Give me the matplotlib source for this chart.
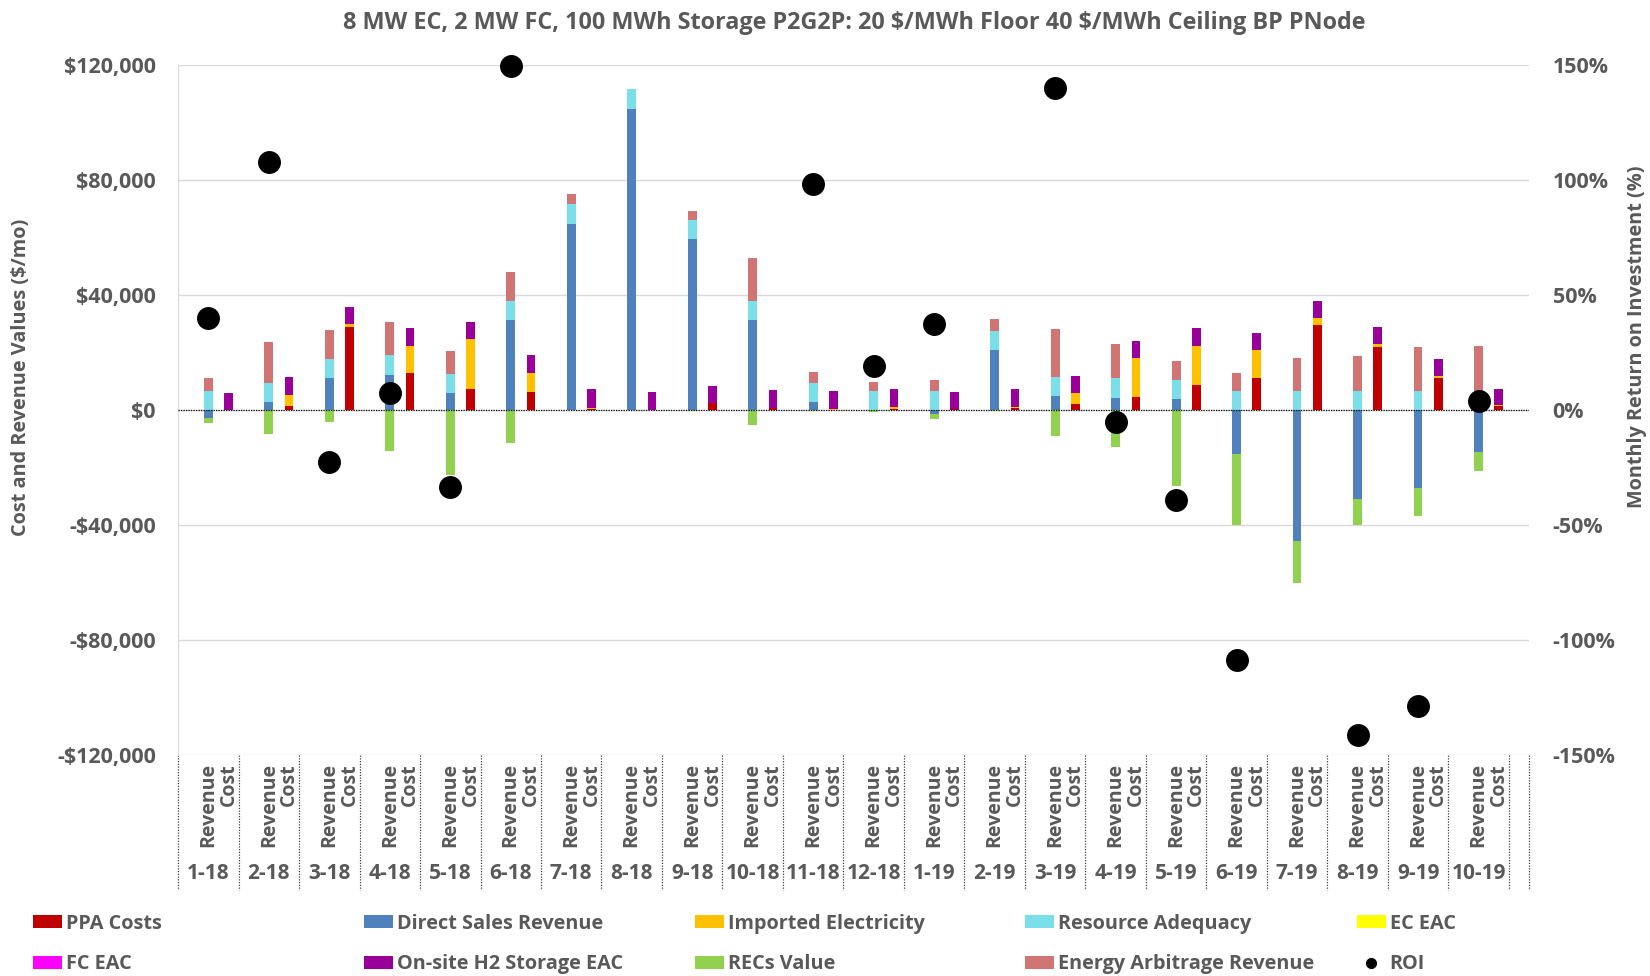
import numpy as np
import matplotlib
matplotlib.use('Agg')
import matplotlib.pyplot as plt
import matplotlib.transforms as mtransforms
from matplotlib.patches import Patch
from matplotlib.lines import Line2D
from matplotlib.ticker import FuncFormatter

plt.rcParams['font.family'] = ['Open Sans', 'DejaVu Sans']

# Monthly values ($/mo); revenue-side and cost-side series
months = ['1-18', '2-18', '3-18', '4-18', '5-18', '6-18', '7-18', '8-18', '9-18', '10-18', '11-18',
          '12-18', '1-19', '2-19', '3-19', '4-19', '5-19', '6-19', '7-19', '8-19', '9-19', '10-19']

ppa_costs = [0, 1350, 28800, 12800, 7240, 6400, 200, 0, 2360, 670, 0,
             300, 300, 840, 2190, 4550, 8760, 11110, 29470, 22060, 11280, 1350]
direct_sales = [-2700, 2700, 11110, 12290, 5890, 31150, 64830, 104740, 59450, 31320, 2700,
                0, -1350, 20880, 4880, 4210, 3870, -15160, -45640, -30990, -27280, -14480]
imported_elec = [0, 4040, 1010, 9600, 17350, 6570, 400, 0, 0, 0, 500,
                 900, 0, 340, 3700, 13640, 13640, 9600, 2530, 1010, 670, 340]
resource_adequacy = [6570, 6570, 6570, 6740, 6570, 6740, 6740, 6740, 6740, 6740, 6570,
                     6570, 6570, 6740, 6740, 6900, 6740, 6740, 6740, 6740, 6740, 6740]
ec_eac = [0] * 22
fc_eac = [0] * 22
h2_storage_eac = [5900, 6060, 5900, 6060, 6060, 6230, 6570, 6230, 5900, 6230, 6060,
                  6230, 6060, 6060, 5900, 5900, 6060, 6060, 6060, 5900, 5900, 5730]
recs_value = [-1850, -8420, -4210, -14310, -22730, -11450, 0, 0, -300, -5220, -500,
              -840, -1680, -500, -9090, -12970, -26440, -24750, -14480, -8930, -9600, -6570]
arbitrage = [4550, 14480, 10100, 11620, 7910, 9940, 3700, 300, 3030, 14650, 4040,
             3030, 3700, 4210, 16500, 11960, 6570, 6060, 11450, 11960, 15320, 15490]

# monthly ROI (%); NaN where the value lies beyond the +/-150% axis range
roi = [40.0, 107.8, -22.7, 7.6, -33.3, 149.7, np.nan, np.nan, np.nan, np.nan, 98.3,
       19.2, 37.5, np.nan, 139.8, -5.1, -39.2, -108.8, np.nan, -141.5, -128.8, 3.8]

series = [
    ('PPA Costs', ppa_costs, '#C00000', 'cost'),
    ('Direct Sales Revenue', direct_sales, '#4F81BD', 'rev'),
    ('Imported Electricity', imported_elec, '#FFC000', 'cost'),
    ('Resource Adequacy', resource_adequacy, '#7ADFE8', 'rev'),
    ('EC EAC', ec_eac, '#FFFF00', 'cost'),
    ('FC EAC', fc_eac, '#FF00FF', 'cost'),
    ('On-site H2 Storage EAC', h2_storage_eac, '#990099', 'cost'),
    ('RECs Value', recs_value, '#92D050', 'rev'),
    ('Energy Arbitrage Revenue', arbitrage, '#D07573', 'rev'),
]

gray = '#595959'
n = len(months)
rev_x = np.arange(n) * 3 + 1
cost_x = np.arange(n) * 3 + 2
width = 0.43

fig = plt.figure(figsize=(16.5, 9.76), dpi=100)
ax = fig.add_axes([0.1079, 0.2264, 0.8188, 0.707])
ax2 = ax.twinx()

# stacked columns: positives pile up from zero, negatives pile down
stacks = {'rev': [np.zeros(n), np.zeros(n)], 'cost': [np.zeros(n), np.zeros(n)]}
for label, vals, color, side in series:
    v = np.asarray(vals, dtype=float)
    pos, neg = stacks[side]
    bottom = np.where(v >= 0, pos, neg)
    x = rev_x if side == 'rev' else cost_x
    ax.bar(x, v, width, bottom=bottom, color=color, linewidth=0, zorder=2)
    pos += np.clip(v, 0, None)
    neg += np.clip(v, None, 0)

ax.axhline(0, color='black', linestyle=(0, (1, 1)), linewidth=0.9, zorder=3)

ax.set_xlim(-0.5, 3 * n + 0.5)
ax.set_ylim(-120000, 120000)
ax.set_yticks(np.arange(-120000, 120001, 40000))
ax.yaxis.set_major_formatter(FuncFormatter(
    lambda v, p: ('-\\$' if v < 0 else '\\$') + f'{abs(v):,.0f}'))
ax.yaxis.grid(True, color='#D9D9D9', linewidth=1)
ax.set_axisbelow(True)
for s in ['top', 'right', 'bottom']:
    ax.spines[s].set_visible(False)
ax.spines['left'].set_color('#D9D9D9')
ax.tick_params(axis='y', length=0, pad=16, labelsize=15.5, labelcolor=gray)
for t in ax.get_yticklabels():
    t.set_fontweight('bold')

# Revenue / Cost category labels
ax.set_xticks(np.concatenate([rev_x, cost_x]))
ax.set_xticklabels(['Revenue'] * n + ['Cost'] * n, rotation=90, va='top',
                   fontsize=14, fontweight='bold', color=gray)
ax.tick_params(axis='x', length=0, pad=6)

trans = mtransforms.blended_transform_factory(ax.transData, ax.transAxes)
for i, m in enumerate(months):
    ax.text(3 * i + 1, -0.171, m, transform=trans, ha='center', va='center',
            fontsize=15, fontweight='bold', color=gray)
for b in list(np.arange(n + 1) * 3 - 0.5) + [3 * n + 0.5]:
    ax.plot([b, b], [0, -0.196], transform=trans, color='#404040',
            linestyle=(0, (1, 1.2)), linewidth=0.9, clip_on=False)

# ROI on the secondary axis
ax2.scatter(rev_x, roi, s=240, color='black', zorder=5, clip_on=False)
ax2.set_ylim(-150, 150)
ax2.set_yticks(np.arange(-150, 151, 50))
ax2.yaxis.set_major_formatter(FuncFormatter(lambda v, p: f'{v:.0f}%'))
ax2.tick_params(axis='y', length=0, pad=17, labelsize=15.5, labelcolor=gray)
for t in ax2.get_yticklabels():
    t.set_fontweight('bold')
for s in ax2.spines.values():
    s.set_visible(False)

fig.text(0.5175, 0.976, '8 MW EC, 2 MW FC, 100 MWh Storage P2G2P: 20 \\$/MWh Floor 40 \\$/MWh Ceiling BP PNode',
         ha='center', va='center', fontsize=16.8, fontweight='bold', color=gray)
fig.text(0.0127, 0.613, 'Cost and Revenue Values (\\$/mo)', rotation=90, ha='center', va='center',
         fontsize=14.3, fontweight='bold', color=gray)
fig.text(0.992, 0.655, 'Monthly Return on Investment (%)', rotation=90, ha='center', va='center',
         fontsize=14.3, fontweight='bold', color=gray)

# legend: five columns, two rows
handles = [Patch(facecolor=c, edgecolor='none') for _, _, c, _ in series]
labels = [lab for lab, _, _, _ in series]
handles.append(Line2D([], [], marker='o', color='black', linestyle='none', markersize=7))
labels.append('ROI')
col_x = [0.0200, 0.2206, 0.4212, 0.6212, 0.8224]
for j, x0 in enumerate(col_x):
    fig.legend([handles[j], handles[j + 5]], [labels[j], labels[j + 5]],
               loc='upper left', bbox_to_anchor=(x0, 0.0640), frameon=False,
               borderpad=0, borderaxespad=0, handlelength=1.45, handleheight=0.67,
               handletextpad=0.2, labelspacing=1.05,
               prop={'size': 14.3, 'weight': 'bold'}, labelcolor=gray)

fig.savefig('out.png', dpi=100)
